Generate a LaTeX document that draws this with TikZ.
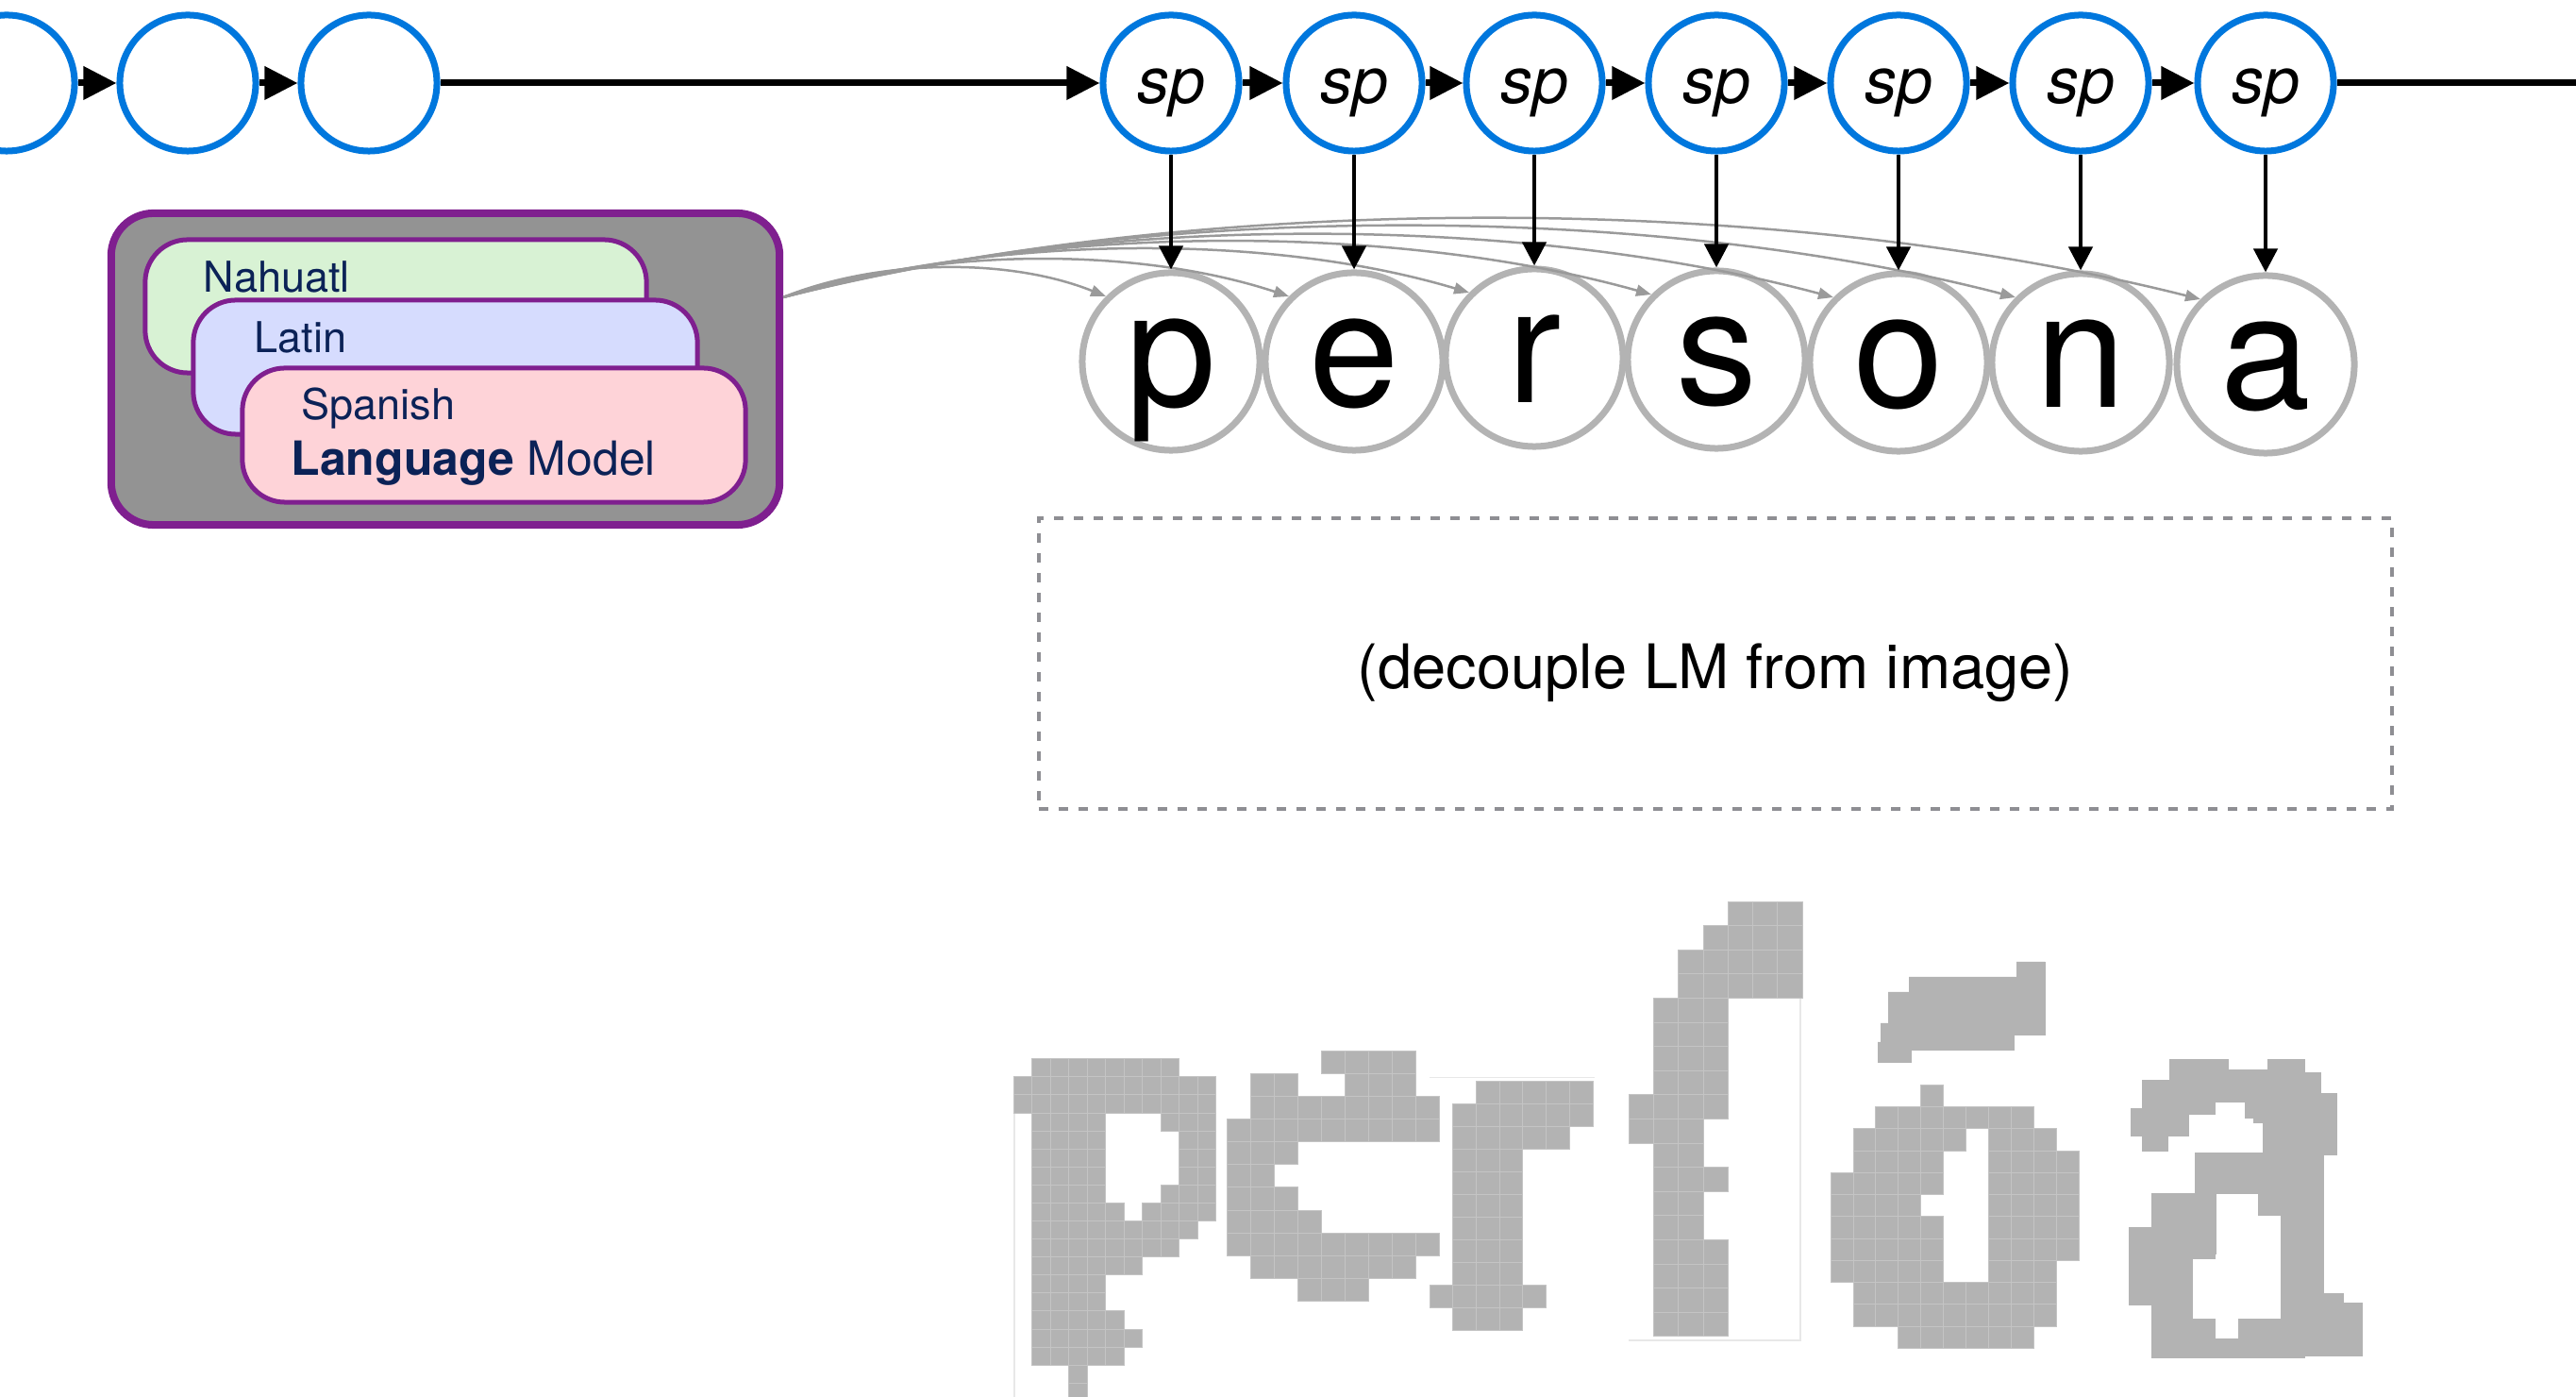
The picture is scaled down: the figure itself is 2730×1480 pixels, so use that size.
\documentclass[tikz,border=0pt]{standalone}
\usepackage{fontspec}
\setmainfont{TeX Gyre Heros}
\usetikzlibrary{arrows.meta,calc}
\definecolor{nodeblue}{HTML}{0077DD}
\definecolor{lettergray}{HTML}{B3B3B3}
\definecolor{curvegray}{HTML}{9A9A9A}
\definecolor{lmfill}{HTML}{939393}
\definecolor{lmpurple}{HTML}{7F1F8F}
\definecolor{nahgreen}{HTML}{D8F2D4}
\definecolor{latlav}{HTML}{D6DCFE}
\definecolor{spapink}{HTML}{FED3D8}
\definecolor{navytext}{HTML}{0B2257}
\definecolor{dashgray}{HTML}{8E8E93}
\definecolor{pixgray}{HTML}{B3B3B3}
\definecolor{pixgrid}{HTML}{C4C4C4}
\definecolor{tileline}{HTML}{E8E8E8}
\newcommand\pixglyph[5]{%
  \foreach \ca/\cb/\rr in {#5}{%
    \foreach \kk in {\ca,...,\cb}{%
      \filldraw[pixcell] ({#1+\kk*#3},{#2+\rr*#4}) rectangle ++(#3,#4);
    }%
  }%
}
\begin{document}
\begin{tikzpicture}[x=0.01cm,y=-0.01cm,
  statecirc/.style={circle,draw=nodeblue,line width=0.07cm,minimum size=1.44cm,inner sep=0pt},
  spnode/.style={statecirc,font=\fontsize{19.35pt}{20pt}\selectfont\itshape,text height=0.44cm,text depth=0cm},
  lettercirc/.style={circle,draw=lettergray,line width=0.07cm,minimum size=1.88cm,inner sep=0pt,
    font=\fontsize{48.9pt}{50pt}\selectfont,text height=0.94cm,text depth=0cm},
  chainarrow/.style={line width=0.07cm,-{Triangle[length=0.35cm,width=0.34cm]}},
  emitarrow/.style={line width=0.045cm,-{Triangle[length=0.25cm,width=0.25cm]}},
  lmcurve/.style={draw=curvegray,line width=0.025cm,-{Triangle[length=0.16cm,width=0.12cm]}},
  lmbox/.style={rectangle,rounded corners=0.45cm,draw=lmpurple,inner sep=0pt},
  lmtext/.style={anchor=base west,inner sep=0pt,text=navytext,font=\fontsize{12.8pt}{14pt}\selectfont},
  pixcell/.style={fill=pixgray,draw=pixgrid,line width=0.008cm},
  pixsolid/.style={fill=pixgray,draw=pixgray,line width=0.006cm},
  dashbox/.style={draw=dashgray,line width=0.04cm,dash pattern=on 0.1cm off 0.11cm,rectangle,inner sep=0pt}
]
\useasboundingbox (0,0) rectangle (2730,1480);
\clip (0,0) rectangle (2730,1480);

% --- top chain of states
\node[statecirc] (b1) at (7,88) {};
\node[statecirc] (b2) at (199,88) {};
\node[statecirc] (b3) at (391,88) {};
\node[spnode] (s1) at (1241,88) {sp};
\node[spnode] (s2) at (1435,88) {sp};
\node[spnode] (s3) at (1626,88) {sp};
\node[spnode] (s4) at (1819,88) {sp};
\node[spnode] (s5) at (2012,88) {sp};
\node[spnode] (s6) at (2205,88) {sp};
\node[spnode] (s7) at (2401,88) {sp};
\coordinate (rightend) at (2760,88);

\draw[chainarrow] (b1) -- (b2);
\draw[chainarrow] (b2) -- (b3);
\draw[chainarrow] (b3) -- (s1);
\draw[chainarrow] (s1) -- (s2);
\draw[chainarrow] (s2) -- (s3);
\draw[chainarrow] (s3) -- (s4);
\draw[chainarrow] (s4) -- (s5);
\draw[chainarrow] (s5) -- (s6);
\draw[chainarrow] (s6) -- (s7);
\draw[line width=0.07cm] (s7) -- (rightend);

% --- emitted characters
\node[lettercirc] (L1) at (1241,383) {p};
\node[lettercirc] (L2) at (1435,383) {e};
\node[lettercirc] (L3) at (1626,379) {r};
\node[lettercirc] (L4) at (1819,381) {s};
\node[lettercirc] (L5) at (2012,384) {o};
\node[lettercirc] (L6) at (2205,384) {n};
\node[lettercirc] (L7) at (2401,386) {a};

% --- language model box
\node[lmbox,fill=lmfill,line width=0.08cm,minimum width=7.08cm,minimum height=3.30cm] (lm) at (472,391) {};
\node[lmbox,fill=nahgreen,line width=0.05cm,minimum width=5.31cm,minimum height=1.41cm] (nah) at (419.5,324.5) {};
\node[lmbox,fill=latlav,line width=0.05cm,minimum width=5.34cm,minimum height=1.42cm] (lat) at (472,389) {};
\node[lmbox,fill=spapink,line width=0.05cm,minimum width=5.33cm,minimum height=1.42cm] (spa) at (523.5,461) {};
\node[lmtext] (tnah) at (215,310) {Nahuatl};
\node[lmtext] (tlat) at (269,374) {Latin};
\node[lmtext] (tspa) at (319,445) {Spanish};
\node[lmtext,font=\fontsize{14.2pt}{16pt}\selectfont] (tlm) at (308,504) {\textbf{Language} Model};

% --- LM to characters
\foreach \nm/\dd/\hh in {L1/340/41,L2/534/53,L3/725/65,L4/918/77,L5/1111/89,L6/1304/101,L7/1500/113}{
  \draw[lmcurve] (lm.12) .. controls +({0.3*\dd},{-\hh}) and +({-0.3*\dd},{-\hh}) .. (\nm.135);
}

% --- state to character emissions
\draw[emitarrow] (s1) -- (L1);
\draw[emitarrow] (s2) -- (L2);
\draw[emitarrow] (s3) -- (L3);
\draw[emitarrow] (s4) -- (L4);
\draw[emitarrow] (s5) -- (L5);
\draw[emitarrow] (s6) -- (L6);
\draw[emitarrow] (s7) -- (L7);

% --- dashed box
\node[dashbox,minimum width=14.34cm,minimum height=3.08cm] (decbox) at (1818,703) {};
\node[anchor=base,inner sep=0pt,font=\fontsize{18.5pt}{20pt}\selectfont] (dectext) at (1818,730) {(decouple LM from image)};

% --- faint image tile borders
\draw[tileline,line width=0.015cm] (1075,1179) -- (1075,1480);
\draw[tileline,line width=0.015cm] (1515,1141.7) -- (1690,1141.7);
\draw[tileline,line width=0.015cm] (1908,1057) -- (1908,1420) -- (1726,1420);

% --- pixelated glyphs
% p
\pixglyph{1074}{1121.7}{19.5}{19.08}{1/8/0,0/10/1,0/10/2,1/4/3,8/10/3,1/4/4,9/10/4,1/4/5,9/10/5,1/4/6,9/10/6,1/4/7,8/10/7,1/5/8,7/10/8,1/9/9,1/8/10,1/6/11,1/4/12,1/4/13,1/5/14,1/6/15,1/5/16,3/3/17,3/3/18}
% e
\pixglyph{1300}{1113.3}{25}{24.1}{4/7/0,1/2/1,5/7/1,1/8/2,0/8/3,0/2/4,0/1/5,0/2/6,0/3/7,0/8/8,1/7/9,3/5/10}
% r
\pixglyph{1515}{1145}{24.7}{24}{2/6/0,1/6/1,1/5/2,1/3/3,1/3/4,1/3/5,1/3/6,1/3/7,1/3/8,0/4/9,1/3/10}
% long s
\pixglyph{1726}{955}{26.3}{25.6}{4/6/0,3/6/1,2/6/2,2/6/3,1/3/4,1/3/5,1/3/6,1/3/7,0/3/8,0/2/9,1/2/10,1/3/11,1/2/12,1/2/13,1/3/14,1/3/15,1/3/16,1/3/17}
% o
\pixglyph{1940}{1149.3}{23.9}{23.25}{4/4/0,2/8/1,1/5/2,7/9/2,1/4/3,7/10/3,0/4/4,7/10/4,0/3/5,7/10/5,0/4/6,7/10/6,0/4/7,7/10/7,0/4/8,7/9/8,1/9/9,1/9/10,3/8/11}
% accent
\filldraw[pixsolid] (2137,1019) -- (2167,1019) -- (2167,1096) -- (2134,1096) -- (2134,1112) -- (2025,1112) -- (2025,1125) -- (1990,1125) -- (1990,1104) -- (1993,1104) -- (1993,1084) -- (2001,1084) -- (2001,1051) -- (2023,1051) -- (2023,1035) -- (2137,1035) -- cycle;
% a
\foreach \xa/\ya/\xb/\yb in {2299/1122/2361/1144, 2403/1122/2442/1144, 2361/1133/2403/1144, 2442/1136/2459/1144,
  2270/1144/2459/1167, 2459/1158/2476/1223, 2270/1167/2347/1180, 2379/1167/2459/1184, 2388/1184/2459/1189,
  2398/1188/2459/1221, 2258/1174/2319/1203, 2270/1203/2297/1219, 2326/1221/2462/1264, 2280/1264/2348/1300,
  2393/1264/2462/1287, 2417/1287/2462/1370, 2256/1300/2348/1328, 2256/1328/2347/1333, 2256/1333/2323/1382,
  2280/1382/2323/1397, 2417/1370/2483/1380, 2417/1380/2503/1397, 2280/1397/2347/1418, 2372/1397/2503/1418,
  2280/1418/2503/1436, 2280/1436/2442/1438}{
  \filldraw[pixsolid] (\xa,\ya) rectangle (\xb,\yb);
}
\end{tikzpicture}
\end{document}
